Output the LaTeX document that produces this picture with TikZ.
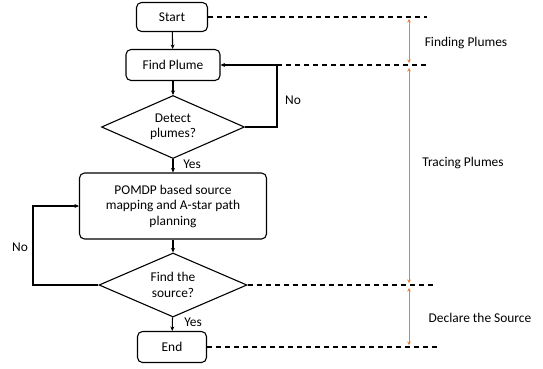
\documentclass[tikz,border=0pt]{standalone}
\usepackage{fontspec}
\setmainfont{Carlito}
\usetikzlibrary{arrows.meta,shapes.geometric}

\definecolor{phaseorange}{RGB}{237,125,49}

\begin{document}
\begin{tikzpicture}[
    x=1pt, y=-1pt,
    >={Stealth[length=4.5pt,width=4pt]},
    font=\fontsize{13.4}{15.5}\selectfont,
    line width=1.1pt,
    stepbox/.style={
        rounded corners=5pt, draw,
        inner sep=2pt,
        align=center
    },
    decide/.style={
        diamond, draw,
        inner sep=0pt,
        aspect=2.3,
        align=center
    },
    guide/.style={
        dashed,
        dash pattern=on 5pt off 4pt,
        line width=1.1pt
    },
    span/.style={
        <->,
        >={Stealth[length=3.5pt,width=3.5pt]},
        draw=phaseorange,
        line width=0.8pt
    },
    flowlabel/.style={
        inner sep=1pt
    }
]

\useasboundingbox (0,0) rectangle (543,368);

% flow chart
\node[stepbox,minimum width=71pt,minimum height=29pt] (start) at (172,17) {Start};
\node[stepbox,minimum width=94pt,minimum height=31pt] (find) at (173,65) {Find Plume};
\node[decide,minimum width=143pt,minimum height=63pt] (detect) at (173,127) {Detect\\plumes?};
\node[stepbox,minimum width=187pt,minimum height=66pt] (pomdp) at (173,206)
    {POMDP based source\\mapping and A-star path\\planning};
\node[decide,minimum width=148pt,minimum height=64pt] (found) at (173,285) {Find the\\source?};
\node[stepbox,minimum width=69pt,minimum height=31pt] (stop) at (172,347) {End};

\draw[->] (start) -- (find);
\draw[->] (find) -- (detect);
\draw[->] (detect) -- (pomdp);
\draw[->] (pomdp) -- (found);
\draw[->] (found) -- (stop);

% loops back
\coordinate (rloop) at (277,65);
\coordinate (lloop) at (33,285);
\draw[->] (detect.east) -| (rloop) -- (find.east);
\draw[->] (found.west) -- (lloop) |- (pomdp.west);

\node[flowlabel] (no1) at (293,100) {No};
\node[flowlabel] (no2) at (20,247) {No};
\node[flowlabel] (yes1) at (192,164) {Yes};
\node[flowlabel] (yes2) at (193,322) {Yes};

% phase guides
\coordinate (g1) at (427,17);
\coordinate (g2) at (427,65);
\coordinate (g3) at (433,285);
\coordinate (g4) at (437,347);

\draw[guide] (start.east) -- (g1);
\draw[guide] (rloop) -- (g2);
\draw[guide] (found.east) -- (g3);
\draw[guide] (stop.east) -- (g4);

\coordinate (a1) at (409,19);
\coordinate (a2) at (409,63);
\coordinate (a3) at (409,68);
\coordinate (a4) at (409,283);
\coordinate (a5) at (409,288);
\coordinate (a6) at (409,345);

\draw[span] (a1) -- (a2);
\draw[span] (a3) -- (a4);
\draw[span] (a5) -- (a6);

\node[flowlabel] (ph1) at (466,43) {Finding Plumes};
\node[flowlabel] (ph2) at (463,163) {Tracing Plumes};
\node[flowlabel] (ph3) at (480,318) {Declare the Source};

\end{tikzpicture}
\end{document}
